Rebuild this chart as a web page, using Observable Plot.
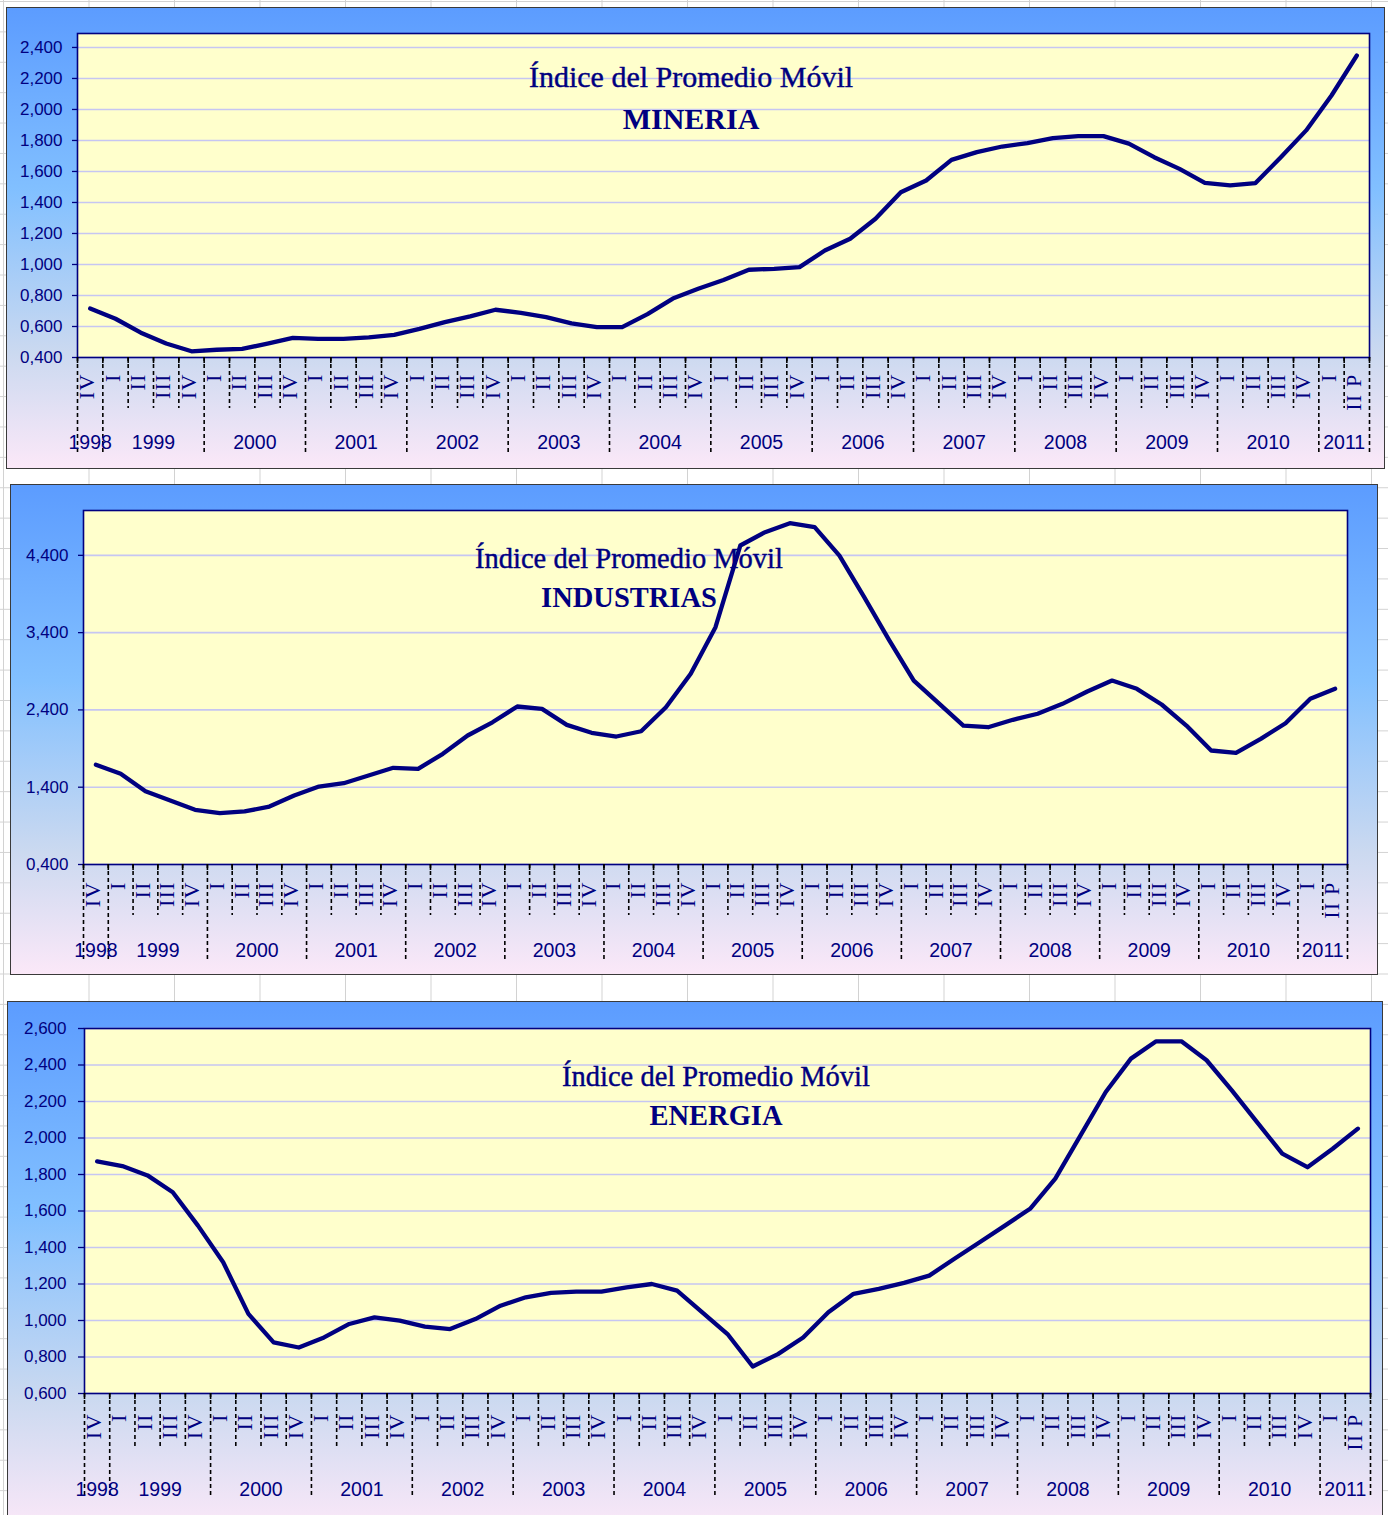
<!DOCTYPE html>
<html>
<head>
<meta charset="utf-8">
<script src="https://cdn.jsdelivr.net/npm/d3@7"></script>
<script src="https://cdn.jsdelivr.net/npm/@observablehq/plot@0.6"></script>
<style>
html, body { margin: 0; padding: 0; }
body {
  width: 1388px; height: 1515px; overflow: hidden; position: relative;
  background-color: #ffffff;
  background-image:
    linear-gradient(to right, #d2d2d2 1px, transparent 1px),
    linear-gradient(to bottom, #d2d2d2 1px, transparent 1px);
  background-size: 85.5px 30.4px;
  background-position: 3px 1px;
}
.panel {
  position: absolute; box-sizing: border-box;
  border: 1.5px solid #3a3a3a;
  background: linear-gradient(to bottom, #5c9cff 0%, #82c0ff 40%, #cbd9f0 75%, #fbe8f8 100%);
}
.chart { position: absolute; }
.qlab text { letter-spacing: 1.2px; }
</style>
</head>
<body>
<script>
// ---------- data ----------
const yearLabels = ["1998","1999","2000","2001","2002","2003","2004","2005","2006","2007","2008","2009","2010","2011"];
const quartersInYear = [1,4,4,4,4,4,4,4,4,4,4,4,4,2];
const quarterLabels = ["IV",
  "I","II","III","IV", "I","II","III","IV", "I","II","III","IV", "I","II","III","IV",
  "I","II","III","IV", "I","II","III","IV", "I","II","III","IV", "I","II","III","IV",
  "I","II","III","IV", "I","II","III","IV", "I","II","III","IV", "I","II","III","IV",
  "I","II P"];

const mineria = [0.716,0.65,0.56,0.49,0.44,0.45,0.455,0.49,0.527,0.52,0.52,0.53,0.546,0.585,0.628,
  0.665,0.708,0.688,0.66,0.62,0.596,0.596,0.68,0.78,0.843,0.90,0.966,0.972,0.983,1.09,1.166,1.295,1.466,
  1.542,1.675,1.725,1.761,1.783,1.815,1.828,1.828,1.78,1.692,1.617,1.527,1.51,1.525,1.692,1.865,2.09,2.348];
const industrias = [1.69,1.573,1.348,1.228,1.108,1.064,1.086,1.15,1.293,1.409,1.452,1.551,1.651,1.638,1.832,
  2.069,2.24,2.444,2.414,2.207,2.104,2.056,2.124,2.435,2.867,3.47,4.527,4.699,4.816,4.764,4.397,3.858,3.307,
  2.78,2.487,2.198,2.176,2.272,2.35,2.479,2.638,2.78,2.673,2.47,2.198,1.875,1.845,2.026,2.228,2.544,2.673];
const energia = [1.872,1.846,1.795,1.703,1.52,1.319,1.036,0.88,0.852,0.907,0.981,1.017,0.999,0.966,0.953,
  1.008,1.081,1.127,1.151,1.158,1.158,1.182,1.2,1.164,1.045,0.926,0.748,0.816,0.907,1.045,1.146,1.173,1.206,
  1.246,1.338,1.429,1.52,1.612,1.777,2.014,2.252,2.435,2.53,2.53,2.426,2.261,2.087,1.914,1.84,1.941,2.051];

const ticksMineria = [0.4,0.6,0.8,1.0,1.2,1.4,1.6,1.8,2.0,2.2,2.4];
const ticksIndustrias = [0.4,1.4,2.4,3.4,4.4];
const ticksEnergia = [0.6,0.8,1.0,1.2,1.4,1.6,1.8,2.0,2.2,2.4,2.6];

const titleLine = "Índice del Promedio Móvil";
const sectorNames = ["MINERIA","INDUSTRIAS","ENERGIA"];

// ---------- derived tables ----------
const fmt = v => v.toFixed(3).replace(".", ",");
const yearStarts = d3.cumsum([0, ...quartersInYear.slice(0, -1)]);
const yearsData = yearLabels.map((y, k) => ({y, c: yearStarts[k] + quartersInYear[k] / 2}));
const nQ = quarterLabels.length;
const yearBounds = [...yearStarts, nQ];
const quarterBounds = d3.range(0, nQ + 1).filter(b => !yearBounds.includes(b));
const allBounds = d3.range(0, nQ + 1);

// ---------- layout ----------
const panels = [
  {values: mineria, ticks: ticksMineria, name: sectorNames[0], domain: [0.4, 2.49],
   box: [6, 7, 1385, 469], plot: [77, 33, 1369, 357],
   tickSize: 5, tickPad: 10, titleSize: 30, cx: 690.5, b1: 86, b2: 128,
   qTop: 16, shortLen: 51, longLen: 96, yearBase: 91.5},
  {values: industrias, ticks: ticksIndustrias, name: sectorNames[1], domain: [0.4, 4.98],
   box: [10, 484, 1378, 975], plot: [83, 510, 1347, 864],
   tickSize: 5, tickPad: 10, titleSize: 28.5, cx: 628.5, b1: 567, b2: 606,
   qTop: 17, shortLen: 51, longLen: 95, yearBase: 92},
  {values: energia, ticks: ticksEnergia, name: sectorNames[2], domain: [0.6, 2.6],
   box: [7, 1001, 1383, 1531], plot: [84, 1028, 1370, 1393],
   tickSize: 6, tickPad: 12, titleSize: 28.5, cx: 715.5, b1: 1085.7, b2: 1124.3,
   qTop: 20, shortLen: 54, longLen: 105, yearBase: 102}
];

const NAVY = "#000080";

for (const p of panels) {
  const [bl, bt, br, bb] = p.box;
  const [pl, pt, pr, pb] = p.plot;
  const W = br - bl, H = bb - bt, plotH = pb - pt;

  const div = document.createElement("div");
  div.className = "panel";
  Object.assign(div.style, {left: bl + "px", top: bt + "px", width: W + "px", height: H + "px"});
  document.body.appendChild(div);

  const series = p.values.map((v, i) => ({i, v, q: quarterLabels[i]}));

  const chart = Plot.plot({
    width: W, height: H,
    marginLeft: pl - bl, marginTop: pt - bt, marginRight: br - pr, marginBottom: bb - pb,
    x: {domain: [0, nQ], axis: null},
    y: {domain: p.domain, axis: null},
    style: {background: "transparent", overflow: "visible", fontFamily: "Liberation Sans", fontSize: "17px", color: NAVY},
    marks: [
      Plot.frame({fill: "#ffffcc"}),
      Plot.gridY(p.ticks, {stroke: "#c6c6f2", strokeOpacity: 1, strokeWidth: 1.6}),
      Plot.frame({stroke: NAVY, strokeWidth: 1.6}),
      Plot.axisY(p.ticks, {label: null, tickSize: p.tickSize, tickPadding: p.tickPad, tickFormat: fmt,
        fontSize: 17, stroke: NAVY, strokeWidth: 1.3, fill: NAVY}),
      // solid tick marks at category boundaries
      Plot.ruleX(allBounds, {x: d => d, insetTop: plotH, insetBottom: -6, stroke: "#000", strokeWidth: 1.6}),
      // dashed separators: quarters (short) and years (long)
      Plot.ruleX(quarterBounds, {x: d => d, insetTop: plotH, insetBottom: -p.shortLen,
        stroke: "#000", strokeWidth: 1.6, strokeDasharray: "4,3"}),
      Plot.ruleX(yearBounds, {x: d => d, insetTop: plotH, insetBottom: -p.longLen,
        stroke: "#000", strokeWidth: 1.6, strokeDasharray: "4,3"}),
      // quarter labels
      Plot.text(series, {x: d => d.i + 0.5, text: "q", frameAnchor: "bottom", rotate: -90,
        textAnchor: "end", lineAnchor: "middle", dy: p.qTop, dx: -3, className: "qlab",
        fontFamily: "Liberation Serif", fontSize: 22, fill: NAVY}),
      // year labels
      Plot.text(yearsData, {x: "c", text: "y", frameAnchor: "bottom", lineAnchor: "middle",
        dy: p.yearBase - 0.32 * 19.5, fontFamily: "Liberation Sans", fontSize: 19.5, fill: NAVY}),
      // titles
      Plot.text([titleLine], {frameAnchor: "top-left", text: d => d, textAnchor: "middle", lineAnchor: "middle",
        dx: p.cx - pl, dy: p.b1 - 0.32 * p.titleSize - pt,
        fontFamily: "Liberation Serif", fontSize: p.titleSize, fill: NAVY, stroke: NAVY, strokeWidth: 0.4}),
      Plot.text([p.name], {frameAnchor: "top-left", text: d => d, textAnchor: "middle", lineAnchor: "middle",
        dx: p.cx - pl, dy: p.b2 - 0.32 * p.titleSize - pt,
        fontFamily: "Liberation Serif", fontWeight: "bold", fontSize: p.titleSize, fill: NAVY}),
      // the series line
      Plot.line(series, {x: d => d.i + 0.5, y: "v", stroke: NAVY, strokeWidth: 4.3,
        strokeLinejoin: "round", strokeLinecap: "round"})
    ]
  });
  chart.classList.add("chart");
  Object.assign(chart.style, {position: "absolute", left: bl + "px", top: bt + "px"});
  document.body.appendChild(chart);
}
</script>
</body>
</html>
